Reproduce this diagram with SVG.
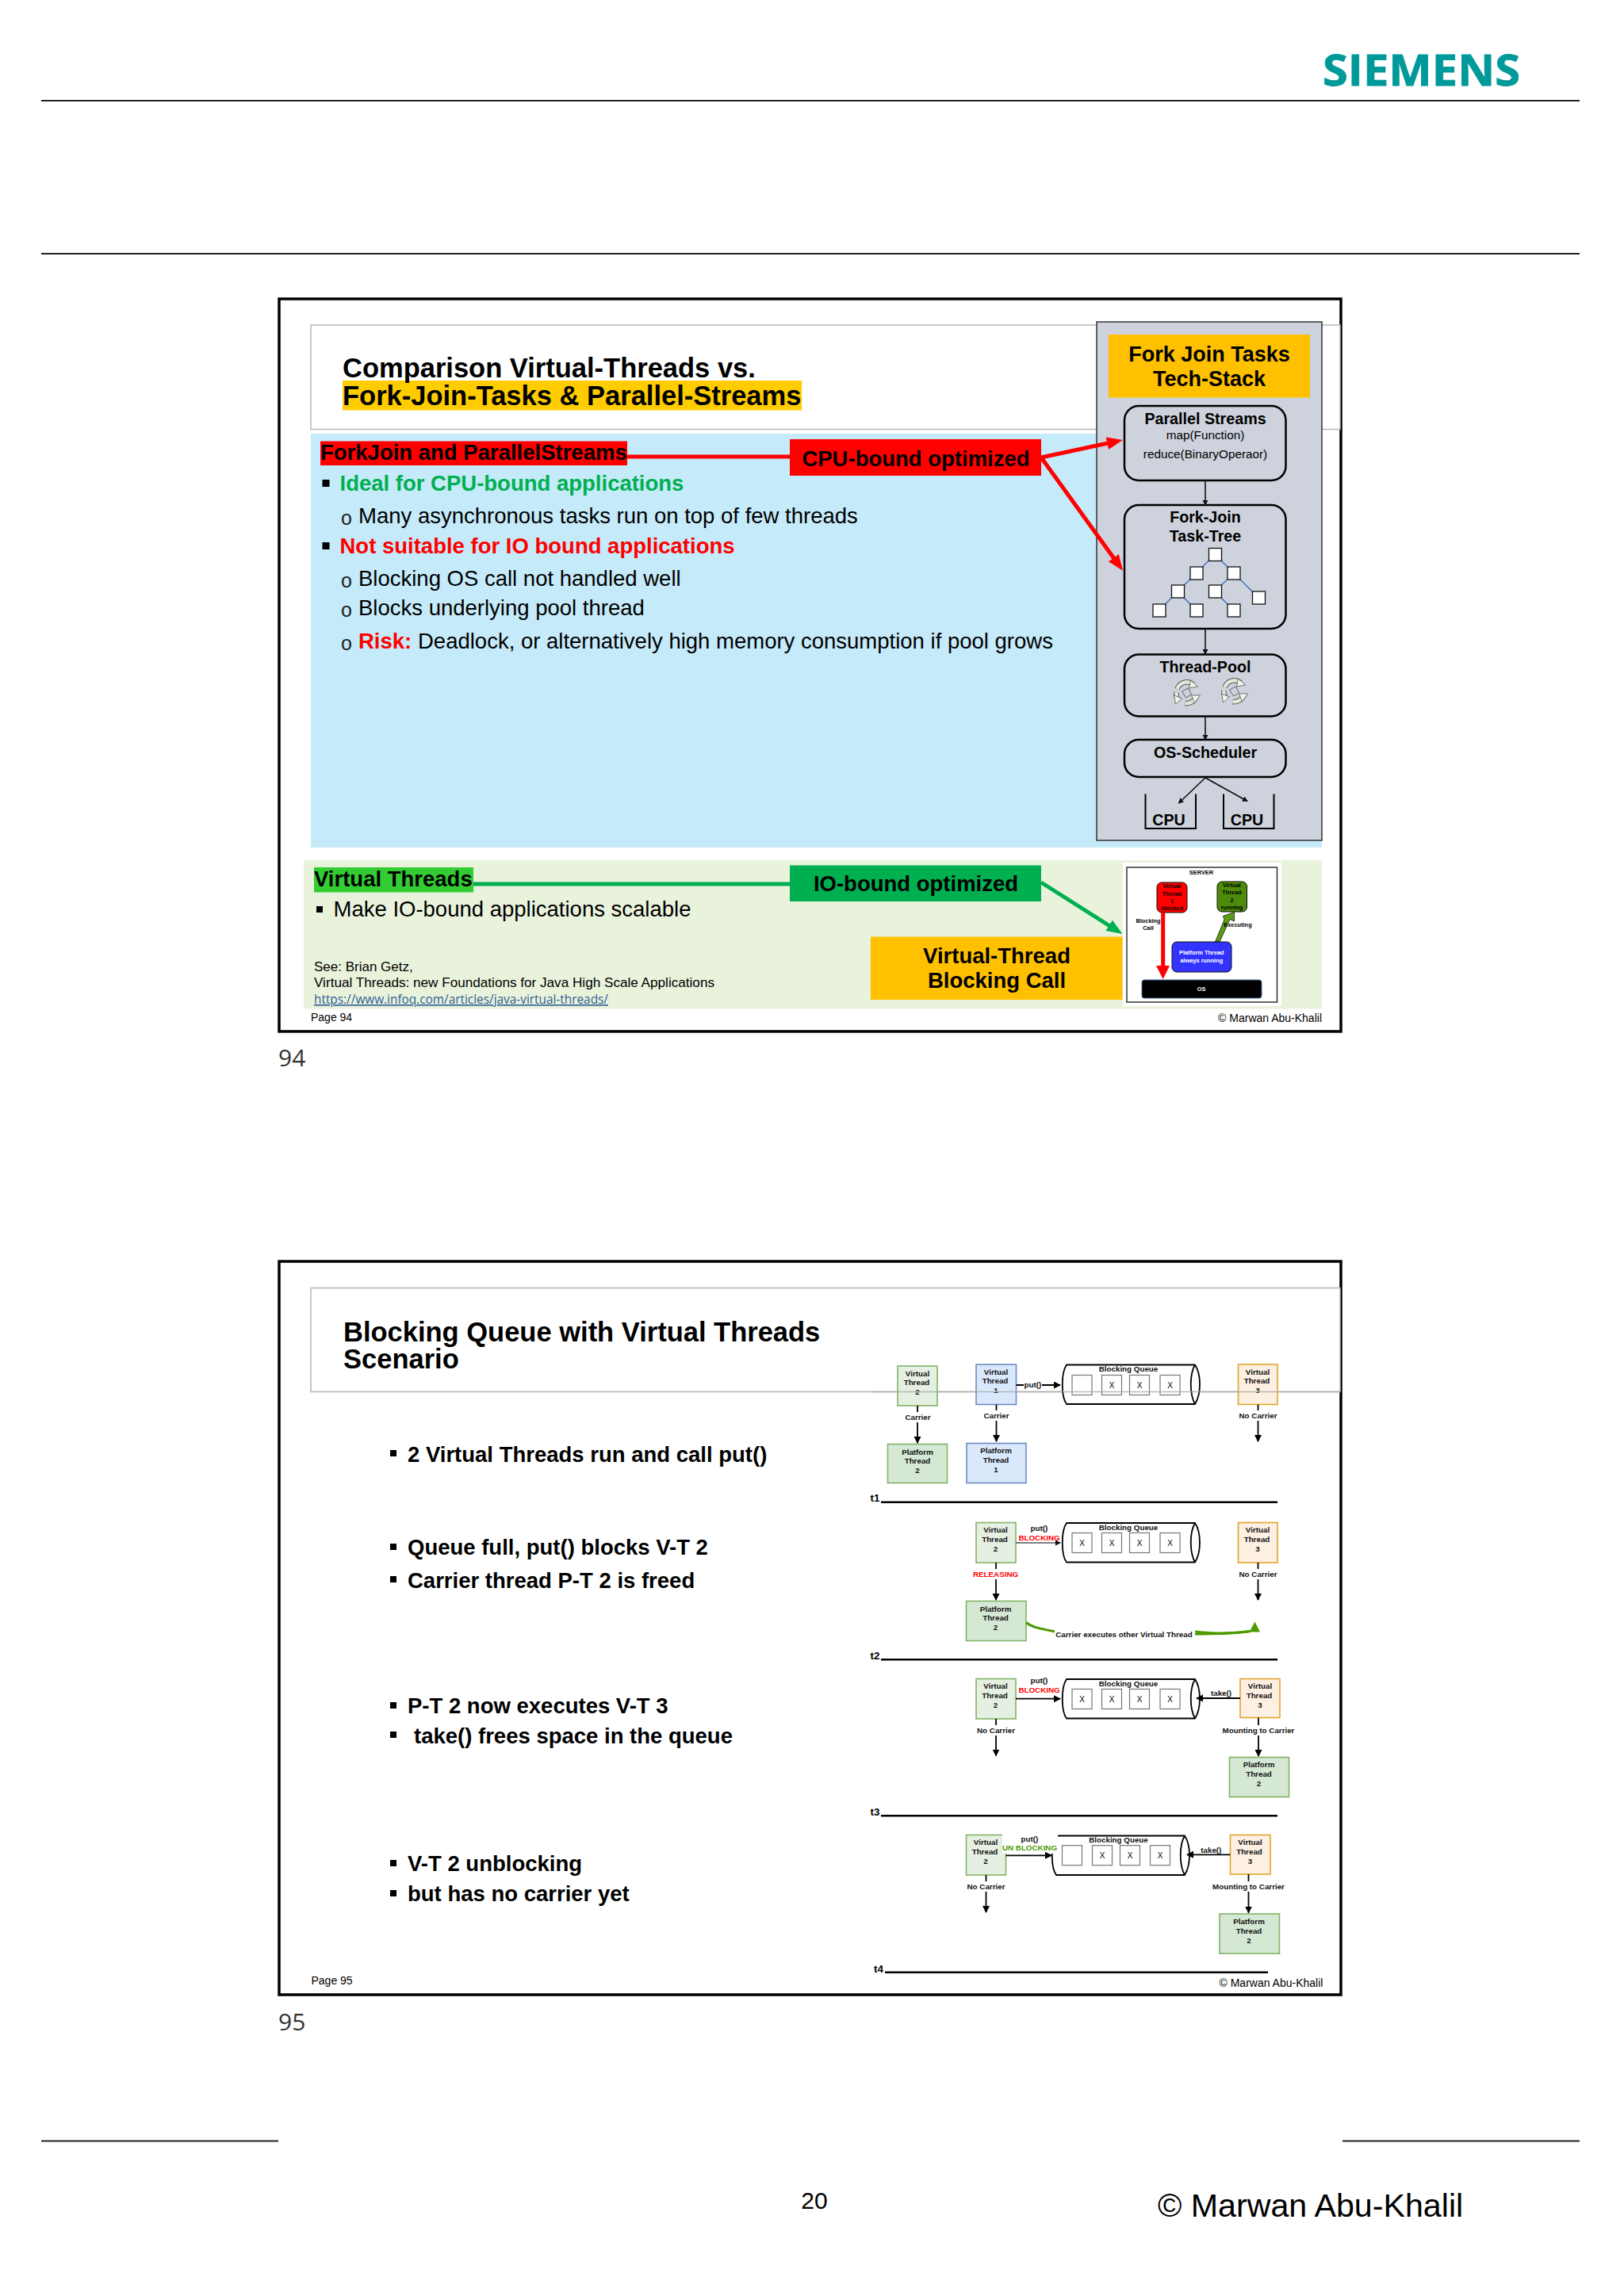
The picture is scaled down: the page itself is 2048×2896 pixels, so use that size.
<svg xmlns="http://www.w3.org/2000/svg" width="2048" height="2896" viewBox="0 0 2048 2896">
<style>
text{font-family:"Liberation Sans",Arial,sans-serif;fill:#000}
.bb{font-weight:700;font-size:27.5px}
.rr{font-size:27.5px}
.oo{font-size:25px;fill:#222}
.ti{font-weight:700;font-size:34.5px}
.sm{font-size:14px}
.ref{font-size:17px}
.m{text-anchor:middle}
.st{font-weight:700;font-size:19.7px;text-anchor:middle}
.st2{font-size:15.3px;text-anchor:middle}
.s7{font-weight:700;font-size:7.4px;text-anchor:middle}
.d{font-weight:700;font-size:9.8px;text-anchor:middle;fill:#111}
.x{font-size:10px;text-anchor:middle}
.tl{font-weight:700;font-size:13.5px}
.red{fill:#ff0000}
.grn{fill:#00b050}
.frame{fill:#fff;stroke:#000;stroke-width:3.5}
.tbox{fill:#fff;stroke:#b5b5b5;stroke-width:1.5}
.rule{stroke:#222;stroke-width:2;fill:none}
.rb{fill:#cdd2dc;stroke:#000;stroke-width:2.5}
.ln{stroke:#111;stroke-width:1.6;fill:none}
.tree{fill:#fff;stroke:#111;stroke-width:1.3}
.tl2{stroke:#4472c4;stroke-width:1.5;fill:none}
.cell{fill:#fff;stroke:#777;stroke-width:1.2}
.vg{fill:#e6f0e2;stroke:#82b366;stroke-width:1.6}
.pg{fill:#d5e8d4;stroke:#82b366;stroke-width:1.6}
.vb{fill:#dae8fc;stroke:#6c8ebf;stroke-width:1.6}
.vo{fill:#fdf0e2;stroke:#e0a52a;stroke-width:1.6}
.cyl{fill:#fff;stroke:#000;stroke-width:1.8}
.ar{stroke:#000;stroke-width:1.8;fill:none;marker-end:url(#ah)}
.lab{fill:#fff}
.time{stroke:#000;stroke-width:2.4}
.bul{fill:#000}
</style>
<defs>
<marker id="ah" markerUnits="userSpaceOnUse" markerWidth="10" markerHeight="10" refX="8" refY="4.5" orient="auto"><path d="M0,0L9,4.5L0,9z" fill="#000"/></marker>
<marker id="sh" markerUnits="userSpaceOnUse" markerWidth="8" markerHeight="8" refX="6" refY="3.5" orient="auto"><path d="M0,0L7,3.5L0,7z" fill="#111"/></marker>
<marker id="rh" markerUnits="userSpaceOnUse" markerWidth="22" markerHeight="18" refX="14" refY="8" orient="auto"><path d="M0,0L20,8L0,16z" fill="#ff0000"/></marker>
<marker id="gh" markerUnits="userSpaceOnUse" markerWidth="22" markerHeight="18" refX="14" refY="8" orient="auto"><path d="M0,0L20,8L0,16z" fill="#00b050"/></marker>
<g id="recycle">
<path d="M-12,-5A13,13 0 0 1 8,-11M12,5A13,13 0 0 1 -2,13M-10,9A13,13 0 0 1 -13,-1" fill="none" stroke="#555" stroke-width="6.500"/>
<path d="M-12,-5A13,13 0 0 1 8,-11M12,5A13,13 0 0 1 -2,13M-10,9A13,13 0 0 1 -13,-1" fill="none" stroke="#e4e8d8" stroke-width="4.500"/>
<path d="M5,-16L14,-8L3,-6zM17,3L10,13L6,3zM-14,14L-16,3L-6,7z" fill="#f2f3ea" stroke="#555" stroke-width="0.8"/>
<path d="M-6,-2L2,-6L6,2L-1,6z" fill="none" stroke="#666" stroke-width="1"/>
</g>
<path id="cyl" class="cyl" d="M5,0H167C175,12 175,37 167,49.5H5C-2,40 -2,10 5,0ZM167,0C160,12 160,37 167,49.5"/>
</defs>
<rect width="2048" height="2896" fill="#fff"/>

<g id="page">
<line class="rule" x1="52" y1="127" x2="1992" y2="127"/>
<line class="rule" x1="52" y1="320" x2="1992" y2="320"/>
<line class="rule" x1="52" y1="2700.5" x2="351" y2="2700.5"/>
<line class="rule" x1="1693" y1="2700.5" x2="1992" y2="2700.5"/>
<text x="1668" y="108" textLength="249" lengthAdjust="spacingAndGlyphs" style="font-family:'Open Sans',sans-serif;font-weight:700;font-size:54.6px;fill:#009999;stroke:#009999;stroke-width:0.8">SIEMENS</text>
<text x="351" y="1345" style="font-family:'Open Sans',sans-serif;font-size:30px;fill:#333">94</text>
<text x="351" y="2561" style="font-family:'Open Sans',sans-serif;font-size:30px;fill:#333">95</text>
<text x="1027" y="2786" class="m" style="font-size:30px">20</text>
<text x="1460" y="2796" style="font-size:41.2px">© Marwan Abu-Khalil</text>
</g>

<g id="slide-94">
<rect class="frame" x="352" y="377" width="1339" height="924"/>
<g id="title-94">
<rect class="tbox" x="392" y="410" width="1298" height="131.5"/>
<rect x="432" y="480" width="579" height="37.5" fill="#ffcc00"/>
<text class="ti" x="432" y="476">Comparison Virtual-Threads vs.</text>
<text class="ti" x="432" y="510.5">Fork-Join-Tasks &amp; Parallel-Streams</text>
</g>
<g id="forkjoin-panel">
<rect x="392" y="547" width="1275" height="522" fill="#c5eafa"/>
<rect x="404" y="556.5" width="387" height="30.5" fill="#ff0000"/>
<text class="bb" x="404" y="580">ForkJoin and ParallelStreams</text>
<rect class="bul" x="406.5" y="605" width="9" height="9"/>
<text class="bb grn" x="428.5" y="618.5">Ideal for CPU-bound applications</text>
<text class="oo" x="430" y="662">o</text>
<text class="rr" x="452" y="660">Many asynchronous tasks run on top of few threads</text>
<rect class="bul" x="406.5" y="684" width="9" height="9"/>
<text class="bb red" x="428.5" y="698">Not suitable for IO bound applications</text>
<text class="oo" x="430" y="741">o</text>
<text class="rr" x="452" y="739">Blocking OS call not handled well</text>
<text class="oo" x="430" y="778">o</text>
<text class="rr" x="452" y="776">Blocks underlying pool thread</text>
<text class="oo" x="430" y="820">o</text>
<text class="bb red" x="452" y="818">Risk:</text>
<text class="rr" x="527" y="818">Deadlock, or alternatively high memory consumption if pool grows</text>
</g>
<g id="vt-panel">
<rect x="383" y="1085" width="1284" height="187.5" fill="#e9f3dc"/>
<rect x="396" y="1094" width="201" height="31.5" fill="#33cc33"/>
<text class="bb" x="396" y="1118">Virtual Threads</text>
<rect class="bul" x="399" y="1143" width="8" height="8"/>
<text class="rr" x="420.5" y="1156">Make IO-bound applications scalable</text>
<text class="ref" x="396" y="1225">See: Brian Getz,</text>
<text class="ref" x="396" y="1245" textLength="505" lengthAdjust="spacingAndGlyphs">Virtual Threads: new Foundations for Java High Scale Applications</text>
<text x="396" y="1266" textLength="371" lengthAdjust="spacingAndGlyphs" style="font-family:'Open Sans',sans-serif;font-size:16px;fill:#2f5d96;text-decoration:underline">https://www.infoq.com/articles/java-virtual-threads/</text>
</g>
<text class="sm" x="392" y="1288">Page 94</text>
<text class="sm" x="1667" y="1289" text-anchor="end">© Marwan Abu-Khalil</text>

<g id="tech-stack">
<rect x="1383" y="406" width="284" height="654" fill="#cdd2dc" stroke="#333" stroke-width="1.5"/>
<rect x="1398" y="422" width="254" height="79.5" fill="#ffc000"/>
<text class="m" x="1525" y="456" style="font-weight:700;font-size:27px">Fork Join Tasks</text>
<text class="m" x="1525" y="486.5" style="font-weight:700;font-size:27px">Tech-Stack</text>
<g id="parallel-streams">
<rect class="rb" x="1418" y="512" width="203.5" height="94" rx="18"/>
<text class="st" x="1520" y="534.5">Parallel Streams</text>
<text class="st2" x="1520" y="554">map(Function)</text>
<text class="st2" x="1520" y="577.5">reduce(BinaryOperaor)</text>
</g>
<g id="task-tree">
<rect class="rb" x="1418" y="637" width="203.5" height="156" rx="18"/>
<text class="st" x="1520" y="659">Fork-Join</text>
<text class="st" x="1520" y="683">Task-Tree</text>
<path class="tl2" d="M1532,699L1509,723M1532,699L1556,723M1509,723L1485,746M1556,723L1532,746M1556,723L1587,754M1485,746L1462,770M1485,746L1509,770M1532,746L1556,770"/>
<rect class="tree" x="1524.5" y="691.5" width="16" height="16"/>
<rect class="tree" x="1501" y="715" width="16" height="16"/>
<rect class="tree" x="1548" y="715" width="16" height="16"/>
<rect class="tree" x="1477.5" y="738" width="16" height="16"/>
<rect class="tree" x="1524.5" y="738" width="16" height="16"/>
<rect class="tree" x="1579.5" y="746" width="16" height="16"/>
<rect class="tree" x="1454" y="762" width="16" height="16"/>
<rect class="tree" x="1501" y="762" width="16" height="16"/>
<rect class="tree" x="1548" y="762" width="16" height="16"/>
</g>
<g id="thread-pool">
<rect class="rb" x="1418" y="825.5" width="203.5" height="78" rx="18"/>
<text class="st" x="1520" y="848">Thread-Pool</text>
<use href="#recycle" x="1496.5" y="874"/>
<use href="#recycle" x="1556.5" y="872"/>
</g>
<g id="os-scheduler">
<rect class="rb" x="1418" y="933" width="203.5" height="47" rx="18"/>
<text class="st" x="1520" y="956">OS-Scheduler</text>
</g>
<g id="cpu-1">
<path d="M1444.5,1001.5V1045H1508V1001.5" fill="none" stroke="#000" stroke-width="2"/>
<text class="st" x="1474" y="1041">CPU</text>
</g>
<g id="cpu-2">
<path d="M1543,1001.5V1045H1606.5V1001.5" fill="none" stroke="#000" stroke-width="2"/>
<text class="st" x="1572.5" y="1041">CPU</text>
</g>
</g>

<g id="cpu-box">
<rect x="996" y="554" width="317" height="46" fill="#ff0000"/>
<text class="bb m" x="1155" y="588">CPU-bound optimized</text>
</g>
<g id="io-box">
<rect x="996" y="1091.5" width="317" height="45.5" fill="#00b050"/>
<text class="bb m" x="1155" y="1124">IO-bound optimized</text>
</g>
<g id="vt-blocking-box">
<rect x="1098" y="1181.5" width="317.5" height="79.5" fill="#ffc000"/>
<text class="bb m" x="1257" y="1215">Virtual-Thread</text>
<text class="bb m" x="1257" y="1246">Blocking Call</text>
</g>

<g id="server-image">
<rect x="1416" y="1088" width="200" height="181" fill="#fff"/>
<rect x="1421" y="1094" width="189.5" height="170" fill="#fff" stroke="#333" stroke-width="1.5"/>
<text class="s7" x="1515" y="1103">SERVER</text>
<g id="server-vt1">
<rect x="1459" y="1113" width="38" height="38" rx="6" fill="#ff0000" stroke="#111"/>
<text class="s7" x="1478" y="1120">Virtual</text><text class="s7" x="1478" y="1129.5">Thread</text><text class="s7" x="1478" y="1139">1</text><text class="s7" x="1478" y="1148">blocked</text>
</g>
<g id="server-vt2">
<rect x="1535" y="1112" width="37.5" height="38" rx="6" fill="#4d8c0a" stroke="#111"/>
<text class="s7" x="1553.5" y="1119">Virtual</text><text class="s7" x="1553.5" y="1128">Thread</text><text class="s7" x="1553.5" y="1137.5">2</text><text class="s7" x="1553.5" y="1147">running</text>
</g>
<path d="M1464.2,1151H1469.2V1218H1475L1466.7,1235L1458,1218H1464.2Z" fill="#ff0000"/>
<path d="M1532.5,1188L1544,1160L1542.5,1155.5L1556.5,1150.5L1556.5,1162L1551,1159.5L1538,1188Z" fill="#5a9e12" stroke="#111" stroke-width="0.8"/>
<text class="s7" x="1448" y="1164">Blocking</text><text class="s7" x="1448" y="1173">Call</text>
<text class="s7" x="1561" y="1169">Executing</text>
<g id="server-platform">
<rect x="1478" y="1188" width="75" height="38" rx="6" fill="#3333ff" stroke="#111"/>
<text class="s7" x="1515.3" y="1204" style="fill:#fff">Platform Thread</text>
<text class="s7" x="1515.3" y="1214" style="fill:#fff">always running</text>
</g>
<g id="server-os">
<rect x="1440" y="1236" width="151" height="23" rx="3" fill="#000" stroke="#4a6a9c"/>
<text class="s7" x="1515" y="1250" style="fill:#fff">OS</text>
</g>
</g>
</g>

<g id="connectors-94">
<line x1="791" y1="576" x2="996" y2="576" stroke="#ff0000" stroke-width="5"/>
<line x1="597" y1="1115" x2="996" y2="1115" stroke="#00b050" stroke-width="5"/>
<line x1="1313" y1="577" x2="1410" y2="556.3" stroke="#ff0000" stroke-width="5" marker-end="url(#rh)"/>
<line x1="1313" y1="577" x2="1412.5" y2="715" stroke="#ff0000" stroke-width="5" marker-end="url(#rh)"/>
<line x1="1313" y1="1113" x2="1410.4" y2="1174.8" stroke="#00b050" stroke-width="5" marker-end="url(#gh)"/>
<path class="ln" marker-end="url(#sh)" d="M1520,606V637"/>
<path class="ln" marker-end="url(#sh)" d="M1520,793V825"/>
<path class="ln" marker-end="url(#sh)" d="M1520,903.5V933"/>
<path class="ln" marker-end="url(#sh)" d="M1520,981L1486.5,1013"/>
<path class="ln" marker-end="url(#sh)" d="M1520,981L1573,1010.5"/>
</g>

<g id="slide-95">
<rect class="frame" x="352" y="1591" width="1339" height="925"/>
<rect class="tbox" x="392" y="1624.5" width="1298" height="131"/>
<text class="ti" x="433" y="1691.5">Blocking Queue with Virtual Threads</text>
<text class="ti" x="433" y="1726">Scenario</text>
<rect class="bul" x="492" y="1829" width="8" height="8"/>
<text class="bb" x="514" y="1844">2 Virtual Threads run and call put()</text>
<rect class="bul" x="492" y="1947" width="8" height="8"/>
<text class="bb" x="514" y="1961">Queue full, put() blocks V-T 2</text>
<rect class="bul" x="492" y="1988" width="8" height="8"/>
<text class="bb" x="514" y="2003">Carrier thread P-T 2 is freed</text>
<rect class="bul" x="492" y="2147" width="8" height="8"/>
<text class="bb" x="514" y="2161">P-T 2 now executes V-T 3</text>
<rect class="bul" x="492" y="2184" width="8" height="8"/>
<text class="bb" x="522" y="2198.5">take() frees space in the queue</text>
<rect class="bul" x="492" y="2346" width="8" height="8"/>
<text class="bb" x="514" y="2360">V-T 2 unblocking</text>
<rect class="bul" x="492" y="2384" width="8" height="8"/>
<text class="bb" x="514" y="2398">but has no carrier yet</text>
<text class="sm" x="392.5" y="2503">Page 95</text>
<text class="sm" x="1537.5" y="2506">© Marwan Abu-Khalil</text>
</g>

<g id="t1">
<g id="t1-vt2"><rect class="vg" x="1132" y="1723" width="50" height="50"/><text class="d" x="1157" y="1735.5">Virtual</text><text class="d" x="1156" y="1747.3">Thread</text><text class="d" x="1157" y="1759">2</text></g>
<g id="t1-pt2"><rect class="pg" x="1119.5" y="1821.5" width="75" height="49"/><text class="d" x="1157" y="1834.5">Platform</text><text class="d" x="1157" y="1846">Thread</text><text class="d" x="1157" y="1858">2</text></g>
<g id="t1-vt1"><rect class="vb" x="1231" y="1721" width="50.5" height="50.5"/><text class="d" x="1256" y="1733.5">Virtual</text><text class="d" x="1255" y="1745">Thread</text><text class="d" x="1256" y="1757">1</text></g>
<g id="t1-pt1"><rect class="vb" x="1219" y="1820.5" width="75" height="50"/><text class="d" x="1256" y="1833">Platform</text><text class="d" x="1256" y="1845">Thread</text><text class="d" x="1256" y="1857">1</text></g>
<g id="t1-queue"><use href="#cyl" x="1340" y="1721.5"/>
<text class="d" x="1423" y="1730">Blocking Queue</text>
<rect class="cell" x="1352" y="1734.5" width="25" height="25"/>
<rect class="cell" x="1389.5" y="1734.5" width="25" height="25"/><text class="x" x="1402" y="1750.5">X</text>
<rect class="cell" x="1424.5" y="1734.5" width="25" height="25"/><text class="x" x="1437" y="1750.5">X</text>
<rect class="cell" x="1463" y="1734.5" width="25" height="25"/><text class="x" x="1475.5" y="1750.5">X</text>
</g>
<g id="t1-vt3"><rect class="vo" x="1561.5" y="1721" width="49.5" height="50.5"/><text class="d" x="1586" y="1733.5">Virtual</text><text class="d" x="1585" y="1745">Thread</text><text class="d" x="1586" y="1757">3</text></g>
<g class="tl-g"><text class="tl" x="1097.5" y="1894">t1</text><line class="time" x1="1111" y1="1894.7" x2="1611" y2="1894.7"/></g>
</g>
<g id="t1-connectors">
<line class="ar" x1="1157" y1="1773" x2="1157" y2="1820"/><rect class="lab" x="1141" y="1781" width="33" height="13"/><text class="d" x="1157.5" y="1790.5">Carrier</text>
<line class="ar" x1="1256.5" y1="1771.5" x2="1256.5" y2="1818"/><rect class="lab" x="1240" y="1779" width="33" height="13"/><text class="d" x="1256.5" y="1789.3">Carrier</text>
<line class="ar" x1="1586.5" y1="1771.5" x2="1586.5" y2="1818"/><rect class="lab" x="1561" y="1779" width="51" height="13"/><text class="d" x="1586.5" y="1789">No Carrier</text>
<line class="ar" x1="1281.5" y1="1747" x2="1337" y2="1747"/><rect class="lab" x="1291" y="1741" width="23" height="12"/><text class="d" x="1302.5" y="1750">put()</text>
</g>

<g id="t2">
<g id="t2-vt2"><rect class="vg" x="1231" y="1920.5" width="50" height="50.5"/><text class="d" x="1255.5" y="1933">Virtual</text><text class="d" x="1254.5" y="1945">Thread</text><text class="d" x="1255.5" y="1957">2</text></g>
<g id="t2-pt2"><rect class="pg" x="1218.5" y="2019.5" width="75.5" height="50"/><text class="d" x="1255.5" y="2032.5">Platform</text><text class="d" x="1255.5" y="2044">Thread</text><text class="d" x="1255.5" y="2056">2</text></g>
<g id="t2-queue"><use href="#cyl" x="1340" y="1921"/>
<text class="d" x="1423" y="1929.5">Blocking Queue</text>
<rect class="cell" x="1352" y="1933.5" width="25" height="25"/><text class="x" x="1364.5" y="1949.5">X</text>
<rect class="cell" x="1389.5" y="1933.5" width="25" height="25"/><text class="x" x="1402" y="1949.5">X</text>
<rect class="cell" x="1424.5" y="1933.5" width="25" height="25"/><text class="x" x="1437" y="1949.5">X</text>
<rect class="cell" x="1463" y="1933.5" width="25" height="25"/><text class="x" x="1475.5" y="1949.5">X</text>
</g>
<g id="t2-vt3"><rect class="vo" x="1561.5" y="1920.5" width="49.5" height="50.5"/><text class="d" x="1586" y="1933">Virtual</text><text class="d" x="1585" y="1945">Thread</text><text class="d" x="1586" y="1957">3</text></g>
<g class="tl-g"><text class="tl" x="1097.5" y="2092.5">t2</text><line class="time" x1="1111" y1="2093.3" x2="1611" y2="2093.3"/></g>
</g>
<g id="t2-connectors">
<line x1="1281" y1="1946" x2="1337" y2="1946" stroke="#000" stroke-width="1" marker-end="url(#sh)"/>
<text class="d" x="1310.5" y="1931">put()</text>
<text class="d" x="1310.5" y="1943" style="fill:#ff0000">BLOCKING</text>
<line class="ar" x1="1256" y1="1971" x2="1256" y2="2018"/><rect class="lab" x="1227" y="1979" width="58" height="13"/><text class="d" x="1255.5" y="1988.5" style="fill:#ff0000">RELEASING</text>
<line class="ar" x1="1586.5" y1="1971" x2="1586.5" y2="2018"/><rect class="lab" x="1561" y="1979" width="51" height="13"/><text class="d" x="1586.5" y="1988.5">No Carrier</text>
<path d="M1294,2046.5C1302,2053 1315,2055 1331,2058H1507C1535,2061 1560,2060 1577,2057.5" fill="none" stroke="#4d9900" stroke-width="3"/>
<path d="M1582.5,2045.5L1589,2058.5L1575.5,2058.5Z" fill="#4d9900"/>
<rect class="lab" x="1330" y="2055" width="177" height="13"/><text class="d" x="1417.5" y="2064.5">Carrier executes other Virtual Thread</text>
<path d="M1507,2061C1535,2061 1560,2060 1577,2057.5" fill="none" stroke="#4d9900" stroke-width="3"/>
</g>

<g id="t3">
<g id="t3-vt2"><rect class="vg" x="1231" y="2117.5" width="50" height="50.5"/><text class="d" x="1255.5" y="2130">Virtual</text><text class="d" x="1254.5" y="2142">Thread</text><text class="d" x="1255.5" y="2153.7">2</text></g>
<g id="t3-queue"><use href="#cyl" x="1340" y="2118"/>
<text class="d" x="1423" y="2126.5">Blocking Queue</text>
<rect class="cell" x="1352" y="2130.5" width="25" height="25"/><text class="x" x="1364.5" y="2146.5">X</text>
<rect class="cell" x="1389.5" y="2130.5" width="25" height="25"/><text class="x" x="1402" y="2146.5">X</text>
<rect class="cell" x="1424.5" y="2130.5" width="25" height="25"/><text class="x" x="1437" y="2146.5">X</text>
<rect class="cell" x="1463" y="2130.5" width="25" height="25"/><text class="x" x="1475.5" y="2146.5">X</text>
</g>
<g id="t3-vt3"><rect class="vo" x="1564" y="2117.5" width="50" height="49"/><text class="d" x="1589" y="2130">Virtual</text><text class="d" x="1588" y="2142">Thread</text><text class="d" x="1589" y="2153.7">3</text></g>
<g id="t3-pt2"><rect class="pg" x="1550.5" y="2216.5" width="75" height="50"/><text class="d" x="1587.5" y="2229.3">Platform</text><text class="d" x="1587.5" y="2241">Thread</text><text class="d" x="1587.5" y="2253">2</text></g>
<g class="tl-g"><text class="tl" x="1097.5" y="2289.5">t3</text><line class="time" x1="1111" y1="2290.3" x2="1611" y2="2290.3"/></g>
</g>
<g id="t3-connectors">
<line class="ar" x1="1281" y1="2142.7" x2="1337" y2="2142.7"/>
<text class="d" x="1310.5" y="2123">put()</text>
<text class="d" x="1310.5" y="2135" style="fill:#ff0000">BLOCKING</text>
<line class="ar" x1="1564" y1="2142" x2="1509" y2="2142"/><rect class="lab" x="1526" y="2130" width="28" height="11"/><text class="d" x="1540" y="2139.3">take()</text>
<line class="ar" x1="1256" y1="2168" x2="1256" y2="2214.5"/><rect class="lab" x="1231" y="2176" width="50" height="13"/><text class="d" x="1256" y="2185.7">No Carrier</text>
<line class="ar" x1="1587" y1="2166.5" x2="1587" y2="2215"/><rect class="lab" x="1540" y="2176" width="94" height="13"/><text class="d" x="1587" y="2185.7">Mounting to Carrier</text>
</g>

<g id="t4">
<g id="t4-vt2"><rect class="vg" x="1218.5" y="2314.5" width="50" height="50.5"/><text class="d" x="1243" y="2327.3">Virtual</text><text class="d" x="1242" y="2339">Thread</text><text class="d" x="1243" y="2350.7">2</text></g>
<g id="t4-queue"><use href="#cyl" x="1327" y="2315.5"/>
<text class="d" x="1410.5" y="2323.7">Blocking Queue</text>
<rect class="cell" x="1339.5" y="2327.7" width="25" height="25"/>
<rect class="cell" x="1377.5" y="2327.7" width="25" height="25"/><text class="x" x="1390" y="2343.7">X</text>
<rect class="cell" x="1412.5" y="2327.7" width="25" height="25"/><text class="x" x="1425" y="2343.7">X</text>
<rect class="cell" x="1450.5" y="2327.7" width="25" height="25"/><text class="x" x="1463" y="2343.7">X</text>
</g>
<g id="t4-vt3"><rect class="vo" x="1551.5" y="2314.5" width="50.5" height="49.5"/><text class="d" x="1576.5" y="2327.3">Virtual</text><text class="d" x="1575.5" y="2339">Thread</text><text class="d" x="1576.5" y="2350.7">3</text></g>
<g id="t4-pt2"><rect class="pg" x="1538" y="2414" width="75.5" height="50"/><text class="d" x="1575" y="2427">Platform</text><text class="d" x="1575" y="2438.5">Thread</text><text class="d" x="1575" y="2450.5">2</text></g>
<g class="tl-g"><text class="tl" x="1102" y="2487.5">t4</text><line class="time" x1="1116" y1="2487.8" x2="1599" y2="2487.8"/></g>
</g>
<g id="t4-connectors">
<rect class="lab" x="1264" y="2313" width="70" height="25"/>
<text class="d" x="1298.5" y="2322.5">put()</text>
<text class="d" x="1298.5" y="2334" style="fill:#4d9900">UN BLOCKING</text>
<line class="ar" x1="1268.5" y1="2340.3" x2="1326" y2="2340.3"/>
<line class="ar" x1="1551.5" y1="2339.3" x2="1497" y2="2339.3"/><rect class="lab" x="1513" y="2327" width="28" height="11"/><text class="d" x="1527.3" y="2337">take()</text>
<line class="ar" x1="1243.5" y1="2365" x2="1243.5" y2="2412"/><rect class="lab" x="1218" y="2373" width="50" height="13"/><text class="d" x="1243.5" y="2383">No Carrier</text>
<line class="ar" x1="1574.5" y1="2364" x2="1574.5" y2="2412.5"/><rect class="lab" x="1527" y="2373" width="94" height="13"/><text class="d" x="1574.5" y="2383">Mounting to Carrier</text>
</g>

<line x1="1100" y1="1755.5" x2="1690" y2="1755.5" stroke="#aaa" stroke-width="1.5" opacity="0.8"/>
</svg>
